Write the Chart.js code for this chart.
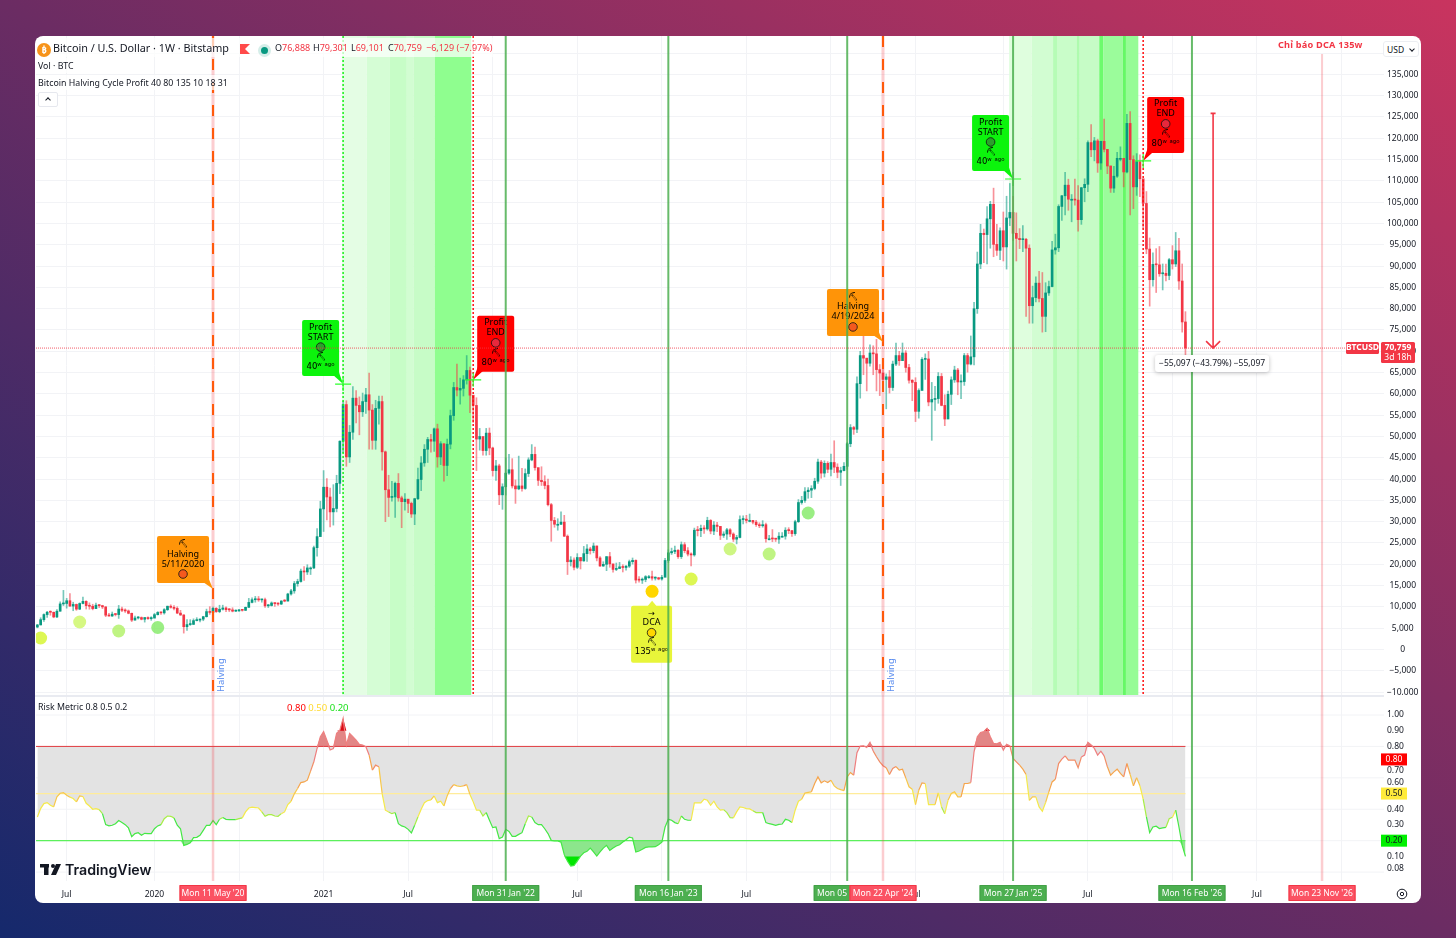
<!DOCTYPE html>
<html>
<head>
<meta charset="utf-8">
<script src="https://cdn.jsdelivr.net/npm/chart.js@4"></script>
<style>
html, body { margin: 0; padding: 0; width: 1456px; height: 938px; overflow: hidden; }
body { background: linear-gradient(to top right, #15296c 0%, #6b2c63 50%, #c9345f 100%); font-family: 'Noto Sans', sans-serif; }
#panel { position: absolute; left: 35px; top: 36px; width: 1386px; height: 867px; background: #fff; border-radius: 8px; overflow: hidden; }
#mainChart { position: absolute; left: 0; top: 0; }
#riskChart { position: absolute; left: 0; top: 659px; }
.row { position: absolute; left: 1px; color: #131722; white-space: nowrap; background: rgba(255,255,255,.7); padding: 0 2px; }
.red { color: #f23645; }
#title { top: 2px; height: 19px; line-height: 20px; width: 453px; font-size: 10.8px; }
#title span { position: absolute; top: 0; }
#title .ohlc { font-size: 9px; }
#volRow { top: 22px; height: 15px; line-height: 16px; font-size: 8.8px; }
#profitRow { top: 39px; height: 15px; line-height: 16px; font-size: 8.8px; }
#btcIcon { position: absolute; left: 1px; top: 5px; width: 14px; height: 14px; border-radius: 7px; background: #f7931a; color: #fff; font-size: 9px; line-height: 14px; text-align: center; font-weight: bold; }
#flag { position: absolute; left: 204px; top: 6px; width: 0; height: 0; border: 5px solid #ff4a4a; border-right-color: transparent; border-left-width: 5px; }
#liveDot { position: absolute; left: 222px; top: 6px; width: 7px; height: 7px; border-radius: 50%; background: #089981; border: 3px solid #d5eee9; }
#collapse { position: absolute; left: 3px; top: 56px; width: 18px; height: 13px; background: #fff; border: 1px solid #e6e8ee; border-radius: 2px; }
#collapse i { position: absolute; left: 7px; top: 5px; width: 3px; height: 3px; border-left: 1px solid #131722; border-top: 1px solid #131722; transform: rotate(45deg); }
#usdBox { position: absolute; left: 1348px; top: 5px; width: 36px; height: 16px; background: #fff; border: 1px solid #eceef2; border-radius: 3px; font-size: 8.5px; line-height: 16px; color: #131722; padding-left: 3px; box-sizing: border-box; }
#usdBox b { position: absolute; right: 4px; top: 5px; width: 3px; height: 3px; border-right: 1px solid #131722; border-bottom: 1px solid #131722; transform: rotate(45deg); }
#dcaTitle { position: absolute; left: 1243px; top: 2px; font-size: 9.2px; font-weight: bold; color: #f23645; white-space: nowrap; letter-spacing: .2px; }
#riskTitle { position: absolute; left: 3px; top: 665px; font-size: 8.8px; color: #131722; white-space: nowrap; }
#riskVals { position: absolute; left: 252px; top: 665px; font-size: 9.5px; white-space: nowrap; }
</style>
</head>
<body>
<div id="panel">
  <canvas id="mainChart" width="1386" height="659"></canvas>
  <canvas id="riskChart" width="1386" height="208"></canvas>
  <div id="title" class="row">
    <div id="btcIcon">₿</div>
    <span style="left:17px">Bitcoin / U.S. Dollar · 1W · Bitstamp</span>
    <div id="flag"></div><div id="liveDot"></div>
    <span class="ohlc" style="left:239px">O<b class="red" style="font-weight:normal">76,888</b></span>
    <span class="ohlc" style="left:277px">H<b class="red" style="font-weight:normal">79,301</b></span>
    <span class="ohlc" style="left:315px">L<b class="red" style="font-weight:normal">69,101</b></span>
    <span class="ohlc" style="left:352px">C<b class="red" style="font-weight:normal">70,759</b></span>
    <span class="ohlc red" style="left:390px">−6,129 (−7.97%)</span>
  </div>
  <div id="volRow" class="row">Vol · BTC</div>
  <div id="profitRow" class="row">Bitcoin Halving Cycle Profit 40 80 135 10 18 31</div>
  <div id="collapse"><i></i></div>
  <div id="usdBox">USD<b></b></div>
  <div id="dcaTitle">Chỉ báo DCA 135w</div>
  <div id="riskTitle">Risk Metric 0.8 0.5 0.2</div>
  <div id="riskVals"><span style="color:#ff0000">0.80</span> <span style="color:#ffd92e">0.50</span> <span style="color:#19e019">0.20</span></div>
</div>
<script>
// weekly candles, index 0 is the week of Mon 29 Apr 2019, index 54 is Mon 11 May 2020
var opens = [
    5270,5770,7000,8200,8750,8740,7640,8990,10700,10800,
    11450,10200,10580,9480,10800,11300,10300,10150,9600,10400,
    10300,10000,8050,7860,8300,8200,9500,9200,9050,8500,
    6900,7400,7500,7100,7500,7250,7360,8180,8700,8600,
    9350,10160,9900,9650,8550,8100,5350,5850,5900,6780,
    6900,7130,7700,8900,8700,9670,8900,9450,9750,9350,
    9300,9000,9070,9250,9200,9900,11050,11680,11850,11650,
    11700,10250,10330,10920,10770,10670,11370,11360,13030,13760,
    15480,15960,18400,18200,19150,19150,23900,26500,33000,38100,
    35800,32300,33100,39000,48900,57500,45200,51000,59000,57300,
    55800,58200,59800,56200,49100,56600,58200,46400,37500,35700,
    35800,39000,35600,34700,35300,34300,31800,35400,39900,43800,
    47000,49300,48900,51800,45200,48300,43200,48200,54900,61500,
    60900,61300,63300,65500,59700,57300,49400,50000,46700,50800,
    47300,42000,43100,36300,38200,41400,42200,38400,37700,38400,
    37800,41300,44500,45800,42700,39700,39400,38500,34000,30300,
    29400,29400,29900,26600,20600,21000,19300,21600,20800,22500,
    23600,23200,24300,21500,19600,20000,21800,20100,18800,19000,
    19400,19250,19570,20620,20920,16300,16280,16450,17100,17100,
    16750,16840,16550,16950,20900,22700,23000,23300,21800,24600,
    23200,22400,22200,28000,27900,28450,28300,30300,27800,29200,
    28900,26800,27100,28100,27100,25900,26300,30500,30600,30300,
    30300,29900,29300,29050,29300,26000,26000,25950,25900,26600,
    26600,28000,27900,27200,30000,34500,35000,37050,37400,37800,
    39500,44000,41400,43700,42300,43900,42800,41600,42000,43000,
    48300,52100,51700,62400,69000,68400,67200,69600,69400,65700,
    64900,63400,64000,61500,67000,69000,67800,69600,66200,63200,
    62700,55900,60800,68100,68200,58100,58700,58900,64100,57300,
    54100,59900,63300,65600,62800,62900,69000,67000,68700,80000,
    90500,97700,97400,101100,104500,95100,93700,98300,94500,101300,
    102600,97700,96500,96200,96300,94200,80700,82600,86000,82400,
    78200,83700,85200,93800,94300,104000,106500,109000,105700,105700,
    105500,100900,108400,109200,119000,117300,119400,114200,119300,117400,
    113500,108300,111100,115300,115300,112100,123500,115000,108600,114500,
    110500,104700,94000,86800,90400,90300,88200,88300,87800,91500,
    90500,93600,86500,76888
];
var highs = [
    5900,7450,8370,8950,9080,8800,9390,11180,13880,12000,
    13150,11100,10680,10950,12300,11450,10950,10620,10900,10480,
    10380,10050,8500,8800,8420,10350,9950,9550,9280,8550,
    7870,7750,7650,7530,7690,7700,8470,8900,8800,9600,
    10190,10500,10300,10030,9190,8190,7000,7000,7200,7470,
    7200,7800,9480,10050,9950,9850,10390,10400,10000,9620,
    9800,9300,9450,9400,9970,12000,12100,12460,12450,11800,
    12050,10580,11180,10950,10950,11480,11720,13200,14100,15980,
    16500,18900,19480,19900,19400,24300,28400,34800,42000,40100,
    37900,38700,40900,49000,58300,58400,52600,61700,60800,59300,
    60200,61300,64900,57500,58500,59500,59500,46600,40900,39500,
    39300,41300,36000,36600,35100,34600,35500,42600,45300,48100,
    49800,50500,52000,52900,48800,48300,49400,56200,62700,67000,
    63700,64300,69000,66300,59500,59100,51900,49500,51900,52000,
    47500,44400,43500,38900,45000,45800,44800,39800,45400,42500,
    42400,45000,48100,47500,42400,42900,40800,40000,34300,31000,
    30700,32300,31500,26900,21800,21500,22500,21600,24200,24600,
    24000,25000,24300,21800,20600,21800,22800,19900,20300,20450,
    19900,19700,21000,21480,21050,17100,16800,17350,17400,18400,
    17050,16950,17400,21400,23400,23800,24300,23450,25250,25100,
    23900,22700,28500,28900,29200,29100,31050,30500,30000,29850,
    28800,27650,28450,28400,27400,26800,31400,31400,31500,31800,
    30350,30300,29750,30250,29700,26800,28150,26100,27450,27450,
    28600,28600,28000,30350,35200,35950,38000,38000,38450,40200,
    44700,44400,44300,44100,45900,49000,43600,42800,43850,48600,
    52800,52400,64000,70000,73800,68100,71500,71300,72800,66900,
    67200,64700,65500,67700,71950,70000,71950,70150,66950,63350,
    63800,61200,68500,69400,70000,62700,61800,65000,64800,59800,
    60650,64000,66500,66000,64500,69500,69500,73600,81500,93300,
    99800,98700,104000,105200,108300,99800,99000,102700,106400,109400,
    106400,102500,98800,99500,96500,95000,85300,87500,88800,88500,
    86100,86500,95800,97500,104400,106600,112000,110400,106800,110400,
    108900,108500,110500,119400,123200,120200,119800,119300,124500,117300,
    113500,113400,116700,118000,113500,125600,126272,115900,116400,116100,
    107500,107500,96600,93100,94100,94600,90500,90500,91800,94800,
    97900,96500,90500,79301
];
var lows = [
    5100,5750,6600,7550,8040,7450,7460,8980,10320,9700,
    10100,9100,9200,9350,10700,9500,9450,9300,9570,9850,
    9600,7700,7800,7770,7880,7300,8900,8700,8370,6550,
    6860,7150,6960,6430,7050,6850,7700,8080,8250,8300,
    9150,9700,9300,8400,8000,3850,4500,5650,5850,6700,
    6450,6750,7600,8250,8100,8700,8630,9260,8900,8900,
    8830,8900,8930,9000,9130,9840,10950,11100,11300,11100,
    9900,9850,10200,10130,10350,10530,11200,11400,12750,13200,
    14850,15800,16200,17600,17600,19000,21900,27000,27700,30400,
    28800,29200,32300,36600,46200,43000,43900,49300,53200,50400,
    54700,55400,47000,47000,47000,52900,42100,30000,31200,34800,
    31000,34800,28600,32700,32100,31000,29300,35200,37300,43000,
    43900,46300,46500,42800,43400,39500,40800,47100,53800,59500,
    57600,59500,62300,55600,53300,42000,46800,45600,45600,45700,
    40700,39700,34000,32900,36250,41100,37900,34300,37500,37150,
    37600,40600,44300,42100,38500,38500,37700,33700,25400,28700,
    28000,29300,26500,17600,19600,18700,19000,18900,20700,20700,
    22400,22700,20800,19500,19500,18500,19300,18150,18500,19100,
    18200,18650,19250,20050,15600,15800,15500,15900,16700,16250,
    16300,16350,16300,17100,20400,22300,22500,21400,21350,22700,
    21950,19600,21900,26650,26500,27250,28000,27150,26950,27650,
    25800,26300,25850,26500,25350,24800,26200,29500,29700,29950,
    29500,28900,28600,28700,25200,25750,25300,25350,24900,26350,
    25900,27200,26550,26800,29800,34100,34500,35500,35650,37500,
    39000,40200,40500,41500,40750,41500,40300,38500,41900,42300,
    47600,50500,50900,59000,64500,60700,66500,64500,60700,59600,
    62800,56500,60200,60800,66600,66700,68500,65100,62500,58400,
    53500,54300,62500,63400,57200,49100,56100,57800,57200,52550,
    55550,57500,62700,59800,58900,62000,65100,66800,66800,78900,
    89400,90800,90500,94200,92200,92500,91500,91200,89300,99500,
    96000,91200,94100,93400,78200,76600,76600,81600,81600,74500,
    74600,83100,85100,92800,93400,100700,102000,103100,100400,104300,
    98200,99800,105100,107500,115700,114700,112000,112700,116800,111700,
    107300,107300,110800,114700,108600,111900,102000,103500,106600,106300,
    98900,92900,80600,85300,83800,87600,84400,86500,86800,89300,
    89900,84500,74500,69101
];
var closes = [
    5770,7000,8200,8750,8740,7640,8990,10700,10800,11450,
    10200,10580,9480,10800,11300,10300,10150,9600,10400,10300,
    10000,8050,7860,8300,8200,9500,9200,9050,8500,6900,
    7400,7500,7100,7500,7250,7360,8180,8700,8600,9350,
    10160,9900,9650,8550,8100,5350,5850,5900,6780,6900,
    7130,7700,8900,8700,9670,8900,9450,9750,9350,9300,
    9000,9070,9250,9200,9900,11050,11680,11850,11650,11700,
    10250,10330,10920,10770,10670,11370,11360,13030,13760,15480,
    15960,18400,18200,19150,19150,23900,26500,33000,38100,35800,
    32300,33100,39000,48900,57500,45200,51000,59000,57300,55800,
    58200,59800,56200,49100,56600,58200,46400,37500,35700,35800,
    39000,35600,34700,35300,34300,31800,35400,39900,43800,47000,
    49300,48900,51800,45200,48300,43200,48200,54900,61500,60900,
    61300,63300,65500,59700,57300,49400,50000,46700,50800,47300,
    42000,43100,36300,38200,41400,42200,38400,37700,38400,37800,
    41300,44500,45800,42700,39700,39400,38500,34000,30300,29400,
    29400,29900,26600,20600,21000,19300,21600,20800,22500,23600,
    23200,24300,21500,19600,20000,21800,20100,18800,19000,19400,
    19250,19570,20620,20920,16300,16280,16450,17100,17100,16750,
    16840,16550,16950,20900,22700,23000,23300,21800,24600,23200,
    22400,22200,28000,27900,28450,28300,30300,27800,29200,28900,
    26800,27100,28100,27100,25900,26300,30500,30600,30300,30300,
    29900,29300,29050,29300,26000,26000,25950,25900,26600,26600,
    28000,27900,27200,30000,34500,35000,37050,37400,37800,39500,
    44000,41400,43700,42300,43900,42800,41600,42000,43000,48300,
    52100,51700,62400,69000,68400,67200,69600,69400,65700,64900,
    63400,64000,61500,67000,69000,67800,69600,66200,63200,62700,
    55900,60800,68100,68200,58100,58700,58900,64100,57300,54100,
    59900,63300,65600,62800,62900,69000,67000,68700,80000,90500,
    97700,97400,101100,104500,95100,93700,98300,94500,101300,102600,
    97700,96500,96200,96300,94200,80700,82600,86000,82400,78200,
    83700,85200,93800,94300,104000,106500,109000,105700,105700,105500,
    100900,108400,109200,119000,117300,119400,114200,119300,117400,113500,
    108300,111100,115300,115300,112100,123500,115000,108600,114500,110500,
    104700,94000,86800,90400,90300,88200,88300,87800,91500,90500,
    93600,86500,76888,70759
];
var riskValues = [
    .351,.404,.436,.442,.425,.415,.479,.502,.506,.489,
    .477,.468,.447,.485,.481,.438,.421,.400,.404,.398,
    .372,.302,.294,.298,.308,.328,.315,.302,.281,.225,
    .245,.251,.234,.247,.245,.245,.276,.294,.302,.340,
    .357,.355,.345,.298,.276,.170,.176,.187,.219,.221,
    .234,.266,.298,.298,.328,.302,.336,.347,.336,.334,
    .334,.334,.340,.345,.383,.408,.413,.411,.408,.383,
    .355,.366,.366,.357,.355,.372,.383,.430,.451,.498,
    .532,.570,.574,.585,.643,.702,.787,.862,.894,.840,
    .777,.787,.883,.904,.979,.809,.883,.862,.840,.813,
    .809,.798,.745,.649,.681,.670,.500,.394,.383,.372,
    .379,.308,.294,.287,.272,.249,.298,.351,.400,.442,
    .455,.460,.485,.442,.451,.421,.485,.532,.557,.549,
    .545,.549,.557,.494,.447,.394,.394,.357,.379,.330,
    .283,.287,.213,.223,.272,.259,.228,.228,.240,.251,
    .308,.357,.351,.315,.302,.302,.276,.245,.202,.198,
    .198,.191,.111,.070,.038,.042,.070,.102,.123,.132,
    .153,.128,.102,.128,.153,.170,.138,.153,.166,.174,
    .191,.206,.223,.217,.128,.134,.145,.157,.160,.160,
    .162,.174,.191,.287,.336,.330,.315,.308,.357,.336,
    .330,.330,.440,.440,.440,.464,.457,.425,.451,.415,
    .394,.398,.379,.347,.345,.383,.415,.411,.404,.402,
    .391,.379,.379,.379,.315,.308,.304,.298,.304,.306,
    .336,.330,.315,.394,.451,.464,.504,.508,.511,.564,
    .606,.568,.581,.570,.585,.549,.532,.525,.519,.606,
    .634,.617,.760,.802,.804,.794,.826,.770,.734,.702,
    .677,.664,.621,.660,.672,.649,.655,.600,.543,.528,
    .430,.521,.568,.564,.430,.430,.430,.504,.415,.372,
    .457,.500,.511,.479,.479,.564,.564,.570,.766,.862,
    .889,.894,.915,.862,.819,.817,.826,.777,.813,.804,
    .723,.702,.681,.655,.621,.457,.479,.479,.415,.387,
    .443,.511,.574,.591,.691,.719,.740,.713,.713,.713,
    .664,.732,.745,.826,.809,.787,.745,.770,.740,.670,
    .617,.638,.655,.628,.606,.691,.621,.549,.600,.549,
    .464,.351,.251,.287,.292,.277,.281,.285,.340,.349,
    .394,.287,.170,.100
];

var priceTicks = [-10000,-5000,0,5000,10000,15000,20000,25000,30000,35000,40000,45000,50000,55000,60000,65000,70000,75000,80000,85000,90000,95000,100000,105000,110000,115000,120000,125000,130000,135000,140000];
var timeTickWeeks = [9,36,62,88,114,140,166,192,218,244,270,297,323,349,375,401];
var timeTickLabels = ['Jul','2020','','2021','Jul','','Jul','','Jul','','Jul','','Jul','','Jul',''];
var riskGridValues = [1,.8,.6,.4,.2,0];
// the axis pushes some labels away from their value, so labels and places are kept apart
var riskTickPlaces = [1,.9,.8,.644,.57,.4,.3,.2,.1,.025];
var riskTickLabels = ['1.00','0.90','0.80','0.70','0.60','0.40','0.30','0.20','0.10','0.08'];

var halvingWeeks = [54,260];
var cycleWeeks = [144,194,249,300,355];
var cycleDates = ["Mon 31 Jan '22","Mon 16 Jan '23","Mon 05 Feb '24","Mon 27 Jan '25","Mon 16 Feb '26"];
var redDateWeeks = [54,260,395];
var redDates = ["Mon 11 May '20","Mon 22 Apr '24","Mon 23 Nov '26"];
var profitStartWeeks = [94,300];
var profitStartPrices = [62300,110450];
var profitEndWeeks = [134,340];
var profitEndPrices = [63300,114700];
var halvingPrices = [14200,72200];
var halvingDates = ['5/11/2020','4/19/2024'];
var dcaWeek = 189;
var dcaPrice = 11455;
var lastPrice = 70759;
var measureTop = 125856;
var measureWeek = 361.5;

var dotWeeks = [1,13,25,37,189,201,213,225,237];
var dotPrices = [2700,6450,4340,5160,13660,16550,23590,22420,32040];
var dotColors = ['rgba(212,245,40,.8)','rgba(200,245,90,.75)','rgba(170,240,90,.75)','rgba(120,232,90,.75)','#ffd600','rgba(212,245,40,.8)','rgba(190,243,90,.75)','rgba(170,240,90,.75)','rgba(120,232,90,.75)'];

var zone1Edges = [93.7,101.3,108.4,113.6,115.6,122.2,133.4];
var zone1Colors = ['#e4fde4','#d5fdd5','#c7fdc7','#d2fdd2','#c7fcc7','#8ffe8f'];
var zone2Edges = [298.8,305.7,312.3,313.5,319.5,320.5,326.5,327.7,333.7,334.7,338.5];
var zone2Colors = ['#dffede','#d2fdd2','#b6fcb6','#c9fdc9','#aefbae','#c6fcc6','#6dfb6d','#9bfc9b','#66f866','#96fc96'];

var teal = '#089981';
var red = '#f23645';
var fontName = "'Noto Sans', sans-serif";

// points near the edge must not shrink the pane, the panes are pinned to the page
Chart.ScatterController.prototype.getMaxOverflow = function () { return 0; };
Chart.LineController.prototype.getMaxOverflow = function () { return 0; };

// same for half a tick label above and below the axis
function pinScale(s, width, height) {
    if (width) s.width = width;
    if (height !== undefined) s.height = height;
    s.paddingTop = 0;
    s.paddingBottom = 0;
    s.paddingLeft = 0;
    s.paddingRight = 0;
}

function candleColors(alpha) {
    return closes.map(function (c, i) {
        if (c >= opens[i]) return alpha < 1 ? 'rgba(8,153,129,' + alpha + ')' : teal;
        return alpha < 1 ? 'rgba(242,54,69,' + alpha + ')' : red;
    });
}

function fillZone(ctx, area, xs, edges, colors) {
    for (var i = 0; i < colors.length; i++) {
        var a = xs.getPixelForValue(edges[i]);
        var b = xs.getPixelForValue(edges[i + 1]);
        ctx.fillStyle = colors[i];
        ctx.fillRect(a, area.top, b - a, area.bottom - area.top);
    }
}

function vLine(ctx, x, top, bottom, color, width, dash) {
    ctx.save();
    ctx.strokeStyle = color;
    ctx.lineWidth = width;
    ctx.setLineDash(dash || []);
    ctx.beginPath();
    ctx.moveTo(x, top);
    ctx.lineTo(x, bottom);
    ctx.stroke();
    ctx.restore();
}

function roundBox(ctx, x, y, w, h, r, color) {
    ctx.fillStyle = color;
    ctx.beginPath();
    ctx.roundRect(x, y, w, h, r);
    ctx.fill();
}

function centerText(ctx, text, x, y, font, color) {
    ctx.font = font;
    ctx.fillStyle = color || '#000';
    ctx.textAlign = 'center';
    ctx.textBaseline = 'middle';
    ctx.fillText(text, x, y);
}

function ring(ctx, x, y, color) {
    ctx.beginPath();
    ctx.arc(x, y, 4.3, 0, Math.PI * 2);
    ctx.fillStyle = color;
    ctx.fill();
    ctx.strokeStyle = '#111';
    ctx.lineWidth = 0.8;
    ctx.stroke();
}

// callout box with its little pointer, tip is where the pointer ends
function callout(ctx, tipX, tipY, dx, dy, w, h, color) {
    var bx = tipX + dx, by = tipY + dy;
    roundBox(ctx, bx, by, w, h, 2, color);
    ctx.fillStyle = color;
    ctx.beginPath();
    ctx.moveTo(tipX, tipY);
    if (dy > 0) {
        ctx.lineTo(tipX - 5, by + 1);
        ctx.lineTo(tipX + 5, by + 1);
    } else if (dx < 0) {
        ctx.lineTo(bx + w - 6, by + h - 1);
        ctx.lineTo(bx + w - 1, by + h - 6);
    } else {
        ctx.lineTo(bx + 1, by + h - 6);
        ctx.lineTo(bx + 6, by + h - 1);
    }
    ctx.closePath();
    ctx.fill();
    return { x: bx + w / 2, y: by };
}

function plusMark(ctx, x, y) {
    ctx.strokeStyle = '#2dff2d';
    ctx.lineWidth = 1.2;
    ctx.beginPath();
    ctx.moveTo(x - 8, y);
    ctx.lineTo(x + 8, y);
    ctx.moveTo(x, y - 7);
    ctx.lineTo(x, y + 7);
    ctx.stroke();
}

var labelFont = '9px ' + fontName;
var pickFont = '8px "DejaVu Sans"';
var agoFont = '8.5px "DejaVu Sans"';

function halvingLabel(ctx, xs, ys, n) {
    var tipX = xs.getPixelForValue(halvingWeeks[n]), tipY = ys.getPixelForValue(halvingPrices[n]);
    var c = callout(ctx, tipX, tipY, -56, -53, 52, 47, '#ff9408');
    centerText(ctx, '⛏', c.x, c.y + 8, pickFont);
    centerText(ctx, 'Halving', c.x, c.y + 18, labelFont);
    centerText(ctx, halvingDates[n], c.x, c.y + 28, labelFont);
    ring(ctx, c.x, c.y + 38, '#f4591e');
}

function profitLabel(ctx, tipX, tipY, dx, color, ringColor, lines, ago) {
    var c = callout(ctx, tipX, tipY, dx, -64, 37, 56, color);
    centerText(ctx, lines[0], c.x, c.y + 7, labelFont);
    centerText(ctx, lines[1], c.x, c.y + 17, labelFont);
    ring(ctx, c.x, c.y + 27, ringColor);
    centerText(ctx, '⛏', c.x, c.y + 37, pickFont);
    centerText(ctx, ago, c.x, c.y + 47, agoFont);
}

var mainPlugin = {
    id: 'mainMarks',
    beforeDatasetsDraw: function (chart) {
        var ctx = chart.ctx, area = chart.chartArea, xs = chart.scales.x;
        ctx.save();
        fillZone(ctx, area, xs, zone1Edges, zone1Colors);
        fillZone(ctx, area, xs, zone2Edges, zone2Colors);
        halvingWeeks.forEach(function (w) {
            vLine(ctx, xs.getPixelForValue(w), area.top, area.bottom, 'rgba(242,54,69,.25)', 3);
        });
        vLine(ctx, xs.getPixelForValue(redDateWeeks[2]), area.top + 18, area.bottom, 'rgba(242,54,69,.25)', 2);
        ctx.restore();
    },
    afterDatasetsDraw: function (chart) {
        var ctx = chart.ctx, area = chart.chartArea, xs = chart.scales.x, ys = chart.scales.y;
        ctx.save();
        halvingWeeks.forEach(function (w) {
            var x = xs.getPixelForValue(w);
            vLine(ctx, x, area.top, area.bottom, '#ff5a0a', 2, [11, 12]);
        });
        halvingWeeks.forEach(function (w, n) {
            halvingLabel(ctx, xs, ys, n);
            ctx.save();
            ctx.translate(xs.getPixelForValue(w) + 8, area.bottom - 3);
            ctx.rotate(-Math.PI / 2);
            ctx.font = '9.5px ' + fontName;
            ctx.fillStyle = '#5b8def';
            ctx.textAlign = 'left';
            ctx.textBaseline = 'middle';
            ctx.fillText('Halving', 0, 0);
            ctx.restore();
        });

        profitStartWeeks.forEach(function (w, n) {
            var x = xs.getPixelForValue(w), y = ys.getPixelForValue(profitStartPrices[n]);
            if (n == 0) vLine(ctx, x, area.top, area.bottom, '#19f019', 1.5, [2, 2]);
            profitLabel(ctx, x, y, -41, '#0cf40c', '#2ca02c', ['Profit', 'START'], '40ʷ ᵃᵍᵒ');
            plusMark(ctx, x, y);
        });
        profitEndWeeks.forEach(function (w, n) {
            var x = xs.getPixelForValue(w), y = ys.getPixelForValue(profitEndPrices[n]);
            vLine(ctx, x, area.top, area.bottom, '#ff1010', 1.5, [2, 2]);
            profitLabel(ctx, x, y, 4, '#ff0000', '#e8283c', ['Profit', 'END'], '80ʷ ᵃᵍᵒ');
            plusMark(ctx, x, y);
        });

        var dx = xs.getPixelForValue(dcaWeek), dy = ys.getPixelForValue(dcaPrice);
        var c = callout(ctx, dx, dy, -21, 5, 41, 57, '#e8f53a');
        centerText(ctx, '→', c.x, c.y + 8, pickFont);
        centerText(ctx, 'DCA', c.x, c.y + 17, labelFont);
        ring(ctx, c.x, c.y + 27, '#ffd600');
        centerText(ctx, '⛏', c.x, c.y + 36, pickFont);
        centerText(ctx, '135ʷ ᵃᵍᵒ', c.x, c.y + 46, agoFont);

        cycleWeeks.forEach(function (w) {
            vLine(ctx, xs.getPixelForValue(w), area.top, area.bottom, 'rgba(76,175,80,.85)', 2);
        });

        // last price line
        var py = ys.getPixelForValue(lastPrice);
        ctx.strokeStyle = 'rgba(242,54,69,.8)';
        ctx.lineWidth = 1;
        ctx.setLineDash([1, 1]);
        ctx.beginPath();
        ctx.moveTo(area.left, py);
        ctx.lineTo(1311, py);
        ctx.stroke();
        ctx.setLineDash([]);

        // measure arrow
        var mx = xs.getPixelForValue(measureWeek), my = ys.getPixelForValue(measureTop);
        ctx.strokeStyle = red;
        ctx.lineWidth = 1.6;
        ctx.beginPath();
        ctx.moveTo(mx, my);
        ctx.lineTo(mx, py);
        ctx.moveTo(mx - 2.5, my);
        ctx.lineTo(mx + 2.5, my);
        ctx.moveTo(mx - 7, py - 7);
        ctx.lineTo(mx, py);
        ctx.lineTo(mx + 7, py - 7);
        ctx.stroke();

        // measure readout
        ctx.save();
        ctx.shadowColor = 'rgba(0,0,0,.25)';
        ctx.shadowBlur = 4;
        ctx.shadowOffsetY = 1;
        roundBox(ctx, mx - 58, py + 7, 114, 17, 3, '#fff');
        ctx.restore();
        centerText(ctx, '−55,097 (−43.79%) −55,097', mx - 1, py + 15.5, '8.5px ' + fontName, '#131722');

        // price tags on the axis
        roundBox(ctx, 1311, py - 6, 33, 12, 1.5, red);
        centerText(ctx, 'BTCUSD', 1327.5, py, 'bold 8.5px ' + fontName, '#fff');
        roundBox(ctx, 1346, py - 6, 34, 21, 1.5, red);
        centerText(ctx, '70,759', 1363, py, 'bold 8.5px ' + fontName, '#fff');
        centerText(ctx, '3d 18h', 1363, py + 10, '8.5px ' + fontName, '#fff');
        ctx.restore();
    }
};

function axisPill(ctx, x, text, color, edge) {
    roundBox(ctx, x - 33.5, 190, 67, 16, 1, color);
    ctx.strokeStyle = edge;
    ctx.lineWidth = 1;
    ctx.strokeRect(x - 33, 190.5, 66, 15);
    centerText(ctx, text, x, 199, '8.5px ' + fontName, '#fff');
}

function sidePill(ctx, y, text, color, textColor) {
    ctx.fillStyle = color;
    ctx.fillRect(1346, y - 6, 26, 12);
    centerText(ctx, text, 1359, y, '8.5px ' + fontName, textColor);
}

var riskPlugin = {
    id: 'riskMarks',
    beforeDatasetsDraw: function (chart) {
        var ctx = chart.ctx, area = chart.chartArea, xs = chart.scales.x, ys = chart.scales.y;
        ctx.save();
        ctx.strokeStyle = '#f2f3f6';
        ctx.lineWidth = 1;
        riskGridValues.forEach(function (v) {
            var y = ys.getPixelForValue(v);
            ctx.beginPath();
            ctx.moveTo(area.left, y);
            ctx.lineTo(area.right, y);
            ctx.stroke();
        });
        ctx.restore();
    },
    afterDatasetsDraw: function (chart) {
        var ctx = chart.ctx, area = chart.chartArea, xs = chart.scales.x, ys = chart.scales.y;
        ctx.save();
        ctx.fillStyle = '#e9ebf1';
        ctx.fillRect(0, 0, 1349, 2);
        halvingWeeks.concat(redDateWeeks[2]).forEach(function (w) {
            vLine(ctx, xs.getPixelForValue(w), 0, area.bottom, 'rgba(242,54,69,.25)', 2.5);
        });
        cycleWeeks.forEach(function (w) {
            vLine(ctx, xs.getPixelForValue(w), 0, area.bottom, 'rgba(76,175,80,.85)', 2);
        });

        // TradingView mark
        var lx = 5, ly = 169;
        ctx.fillStyle = '#131722';
        ctx.fillRect(lx, ly, 9, 3.5);
        ctx.fillRect(lx + 4, ly, 4.5, 11);
        ctx.beginPath();
        ctx.arc(lx + 13, ly + 2, 2, 0, Math.PI * 2);
        ctx.fill();
        ctx.beginPath();
        ctx.moveTo(lx + 16, ly);
        ctx.lineTo(lx + 21, ly);
        ctx.lineTo(lx + 16, ly + 11);
        ctx.lineTo(lx + 11, ly + 11);
        ctx.closePath();
        ctx.fill();
        ctx.font = '600 14.2px Inter, ' + fontName;
        ctx.fillStyle = '#131722';
        ctx.textAlign = 'left';
        ctx.textBaseline = 'middle';
        ctx.fillText('TradingView', 30, 175.5);

        cycleWeeks.forEach(function (w, n) {
            axisPill(ctx, xs.getPixelForValue(w), cycleDates[n], '#4caf50', '#43a047');
        });
        redDateWeeks.forEach(function (w, n) {
            axisPill(ctx, xs.getPixelForValue(w), redDates[n], '#fb5263', '#f23645');
        });

        sidePill(ctx, ys.getPixelForValue(.8) + 13, '0.80', '#ff0000', '#fff');
        sidePill(ctx, ys.getPixelForValue(.5), '0.50', '#ffeb3b', '#131722');
        sidePill(ctx, ys.getPixelForValue(.2), '0.20', '#00f000', '#131722');

        // settings wheel
        ctx.strokeStyle = '#131722';
        ctx.lineWidth = 1;
        ctx.beginPath();
        ctx.arc(1367, 199, 4.8, 0, Math.PI * 2);
        ctx.stroke();
        ctx.beginPath();
        ctx.arc(1367, 199, 1.7, 0, Math.PI * 2);
        ctx.stroke();
        ctx.restore();
    }
};

var wickBars = opens.map(function (o, i) { return { x: i, y: [lows[i], highs[i]] }; });
var bodyBars = opens.map(function (o, i) { return { x: i, y: [o, closes[i]] }; });
var dots = dotWeeks.map(function (w, i) { return { x: w, y: dotPrices[i] }; });

new Chart(document.getElementById('mainChart').getContext('2d'), {
    type: 'bar',
    data: {
        datasets: [
            { type: 'scatter', data: dots, pointRadius: 6.5, pointHoverRadius: 6.5, pointBackgroundColor: dotColors, pointBorderWidth: 0, order: 1 },
            { data: bodyBars, backgroundColor: candleColors(1), barThickness: 2, grouped: false, minBarLength: 1, order: 2 },
            { data: wickBars, backgroundColor: candleColors(.55), barThickness: 1, grouped: false, order: 3 }
        ]
    },
    options: {
        responsive: false,
        animation: false,
        layout: { padding: { left: 1, right: 0, top: 0, bottom: 0 }, autoPadding: false },
        plugins: { legend: { display: false }, tooltip: { enabled: false } },
        scales: {
            x: {
                type: 'linear', display: true, min: -0.43, max: 414.05, offset: false,
                afterBuildTicks: function (s) { s.ticks = timeTickWeeks.map(function (v) { return { value: v }; }); },
                afterFit: function (s) { pinScale(s, null, 0); },
                border: { display: false },
                grid: { color: '#f2f3f6', drawTicks: false, offset: false },
                ticks: { display: false }
            },
            y: {
                position: 'right', min: -10681, max: 144014,
                afterBuildTicks: function (s) { s.ticks = priceTicks.map(function (v) { return { value: v }; }); },
                afterFit: function (s) { pinScale(s, 37); },
                border: { display: false },
                grid: { color: '#f2f3f6', drawTicks: false },
                ticks: {
                    padding: 3, crossAlign: 'center', autoSkip: false, color: '#131722',
                    font: { family: fontName, size: 8.5 },
                    callback: function (v) {
                        if (v > 135000) return '';
                        return (v < 0 ? '−' : '') + Math.abs(v).toLocaleString('en-US');
                    }
                }
            }
        }
    },
    plugins: [mainPlugin]
});

function riskColor(v) {
    if (v < .34) return '#45e845';
    if (v < .38) return '#a8ee45';
    if (v < .47) return '#f5ea4a';
    if (v < .55) return '#f8c84a';
    if (v < .66) return '#f6a54c';
    if (v < .74) return '#f28d66';
    return '#ee7f7f';
}

var riskPoints = riskValues.map(function (v, i) { return { x: i, y: v }; });
var lastWeek = riskValues.length - 1;

function levelLine(v, color, width) {
    return { data: [{ x: -0.43, y: v }, { x: lastWeek, y: v }], borderColor: color, borderWidth: width, pointRadius: 0, fill: false, order: 1 };
}

// the shaded part of the risk line on one side of a level, flat on the level elsewhere
function riskFill(level, side, color, order) {
    var clipped = riskValues.map(function (v, i) {
        return { x: i, y: side == 'above' ? Math.max(v, level) : Math.min(v, level) };
    });
    return {
        data: clipped, borderWidth: 0, pointRadius: 0, borderColor: 'transparent',
        fill: { target: { value: level }, above: color, below: color }, order: order
    };
}

new Chart(document.getElementById('riskChart').getContext('2d'), {
    type: 'line',
    data: {
        datasets: [
            {
                data: riskPoints, pointRadius: 0, borderWidth: 1.2, fill: false, order: 0,
                borderColor: '#45e845',
                segment: { borderColor: function (c) { return riskColor(c.p1.parsed.y); } }
            },
            levelLine(.8, '#e0393e', 1),
            levelLine(.5, '#ffec9a', 1.2),
            levelLine(.2, '#5cf05c', 1.3),
            riskFill(.1, 'below', '#00e600', 2),
            riskFill(.2, 'below', '#8ce68c', 3),
            riskFill(.9, 'above', '#dc0a14', 4),
            riskFill(.8, 'above', '#e28686', 5),
            riskFill(.8, 'below', '#e3e3e3', 6)
        ]
    },
    options: {
        responsive: false,
        animation: false,
        layout: { padding: { left: 1, right: 0, top: 2, bottom: 0 }, autoPadding: false },
        plugins: { legend: { display: false }, tooltip: { enabled: false } },
        scales: {
            x: {
                type: 'linear', min: -0.43, max: 414.05,
                afterBuildTicks: function (s) { s.ticks = timeTickWeeks.map(function (v) { return { value: v }; }); },
                afterFit: function (s) { pinScale(s, null, 22); },
                border: { display: false },
                grid: { color: '#f2f3f6', drawTicks: false },
                ticks: {
                    padding: 8, maxRotation: 0, autoSkip: false, color: '#131722',
                    font: { family: fontName, size: 8.5 },
                    callback: function (v) { return timeTickLabels[timeTickWeeks.indexOf(v)]; }
                }
            },
            y: {
                position: 'right', min: -0.0567, max: 1.1146,
                afterBuildTicks: function (s) { s.ticks = riskTickPlaces.map(function (v) { return { value: v }; }); },
                afterFit: function (s) { pinScale(s, 37); },
                border: { display: false },
                grid: { display: false, drawTicks: false },
                ticks: {
                    padding: 3, crossAlign: 'center', autoSkip: false, color: '#131722',
                    font: { family: fontName, size: 8.5 },
                    callback: function (v) { return riskTickLabels[riskTickPlaces.indexOf(v)]; }
                }
            }
        }
    },
    plugins: [riskPlugin]
});
</script>
</body>
</html>
